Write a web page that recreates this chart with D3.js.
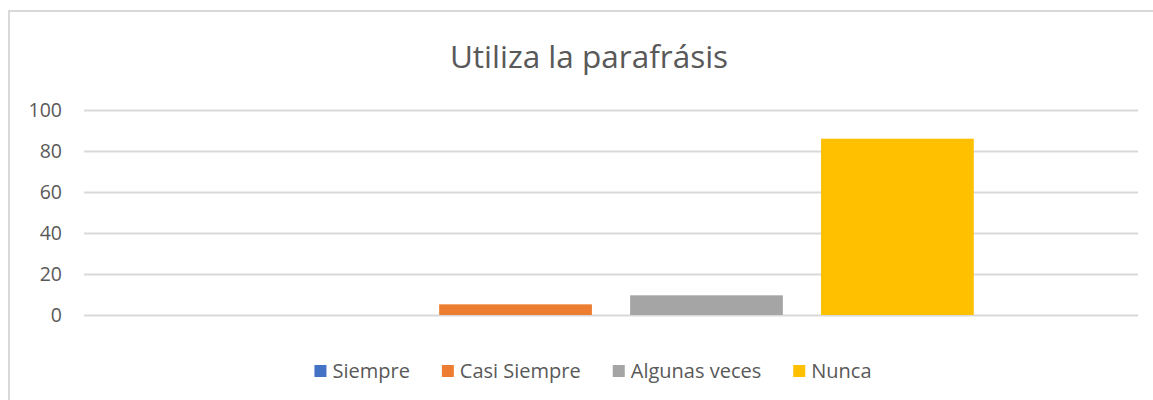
<!DOCTYPE html>
<html>
<head>
<meta charset="utf-8">
<script src="https://cdn.jsdelivr.net/npm/d3@7"></script>
<style>
  body { margin: 0; background: #fff; }
  svg { display: block; font-family: "Open Sans", "Noto Sans", sans-serif; }
</style>
</head>
<body>
<svg id="chart" width="1153" height="400"></svg>
<script>
const width = 1153;
const height = 400;

// data
const title = 'Utiliza la parafrásis';
const series = ['Siempre', 'Casi Siempre', 'Algunas veces', 'Nunca'];
const values = [0, 5.2, 9.6, 86];
const colors = ['#4472C4', '#ED7D31', '#A5A5A5', '#FFC000'];
const yTicks = [0, 20, 40, 60, 80, 100];

const margin = {top: 110, right: 15, bottom: 85, left: 84};

const svg = d3.select('#chart');

// chart frame (only top and left edges show in the crop)
svg.append('path')
  .attr('d', `M9,${height} V11 H${width}`)
  .attr('fill', 'none')
  .attr('stroke', '#d9d9d9')
  .attr('stroke-width', 2);

svg.append('text')
  .attr('x', 589)
  .attr('y', 68)
  .attr('text-anchor', 'middle')
  .attr('font-size', 31.5)
  .attr('fill', '#595959')
  .text(title);

const y = d3.scaleLinear()
  .domain([0, 100])
  .range([315, 110]);

// one category, four series side by side
const x = d3.scaleBand()
  .domain(series)
  .range([margin.left, width - margin.right])
  .paddingInner(0.2)
  .paddingOuter(0.86);

const yAxis = d3.axisLeft(y)
  .tickValues(yTicks)
  .tickSize(-(width - margin.right - margin.left))
  .tickPadding(22);

svg.append('g')
  .attr('transform', `translate(${margin.left},0)`)
  .call(yAxis)
  .call(g => g.select('.domain').remove())
  .call(g => g.selectAll('.tick line').attr('stroke', '#d9d9d9').attr('stroke-width', 2))
  .call(g => g.selectAll('.tick text')
    .attr('fill', '#595959')
    .attr('font-size', 19.5)
    .attr('font-family', '"Open Sans", sans-serif'));

svg.append('g')
  .selectAll('rect')
  .data(values)
  .join('rect')
  .attr('x', (d, i) => x(series[i]))
  .attr('y', d => y(d))
  .attr('width', x.bandwidth())
  .attr('height', d => y(0) - y(d))
  .attr('fill', (d, i) => colors[i]);

// legend, centred under the plot
const legend = svg.append('g');
const items = legend.selectAll('g')
  .data(series)
  .join('g');

items.append('rect')
  .attr('width', 12)
  .attr('height', 12)
  .attr('y', -6)
  .attr('fill', (d, i) => colors[i]);

items.append('text')
  .attr('x', 18)
  .attr('dy', '0.35em')
  .attr('font-size', 20)
  .attr('fill', '#595959')
  .text(d => d);

const gap = 32;
let offset = 0;
items.each(function () {
  const w = 18 + d3.select(this).select('text').node().getComputedTextLength();
  d3.select(this).attr('transform', `translate(${offset},0)`);
  offset += w + gap;
});
offset -= gap;
legend.attr('transform', `translate(${593 - offset / 2},371)`);
</script>
</body>
</html>
